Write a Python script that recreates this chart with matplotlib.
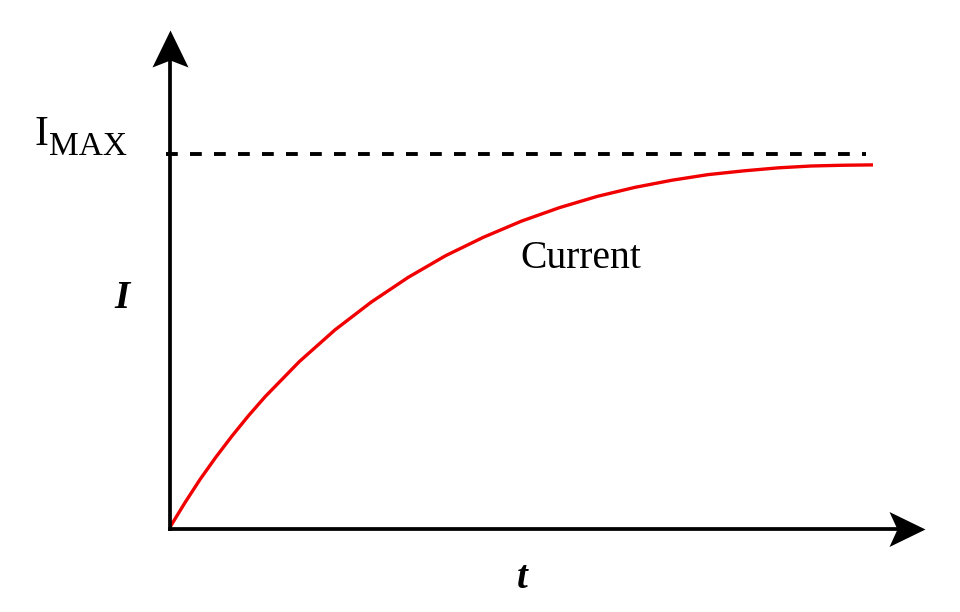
import matplotlib
matplotlib.use('Agg')
import matplotlib.pyplot as plt
from matplotlib.path import Path

# ---- data (t in arbitrary units, I relative to I_MAX) ----
t_vals = [0.000, 0.212, 0.430, 0.654, 0.882, 1.116, 1.354, 1.843, 2.347, 2.862,
          3.388, 3.922, 4.459, 5.000, 5.541, 6.078, 6.612, 7.138, 7.653, 8.158,
          8.646, 9.118, 9.570, 10.000]
i_vals = [0.005, 0.070, 0.133, 0.192, 0.248, 0.302, 0.353, 0.447, 0.531, 0.605,
          0.671, 0.729, 0.778, 0.821, 0.857, 0.887, 0.911, 0.930, 0.945, 0.955,
          0.963, 0.968, 0.970, 0.971]
i_max = 1.0
curve_label = "Current"
x_label = "t"
y_label = "I"
max_main, max_sub = "I", "MAX"

# ---- layout ----
W, H = 960, 612
fig = plt.figure(figsize=(W / 100, H / 100), dpi=100)
ax = fig.add_axes([0, 0, 1, 1])
px_t, px_i = 70.3, 375.0       # pixels per data unit
ox, oy = 170, 529              # origin pixel position
ax.set_xlim(-ox / px_t, (W - ox) / px_t)
ax.set_ylim(-(H - oy) / px_i, oy / px_i)
ax.axis('off')

def fx(px):
    return px / W

def fy(py):
    return 1 - py / H

serif = ['Liberation Serif', 'DejaVu Serif']

# axes lines
x_notch = (897 - ox) / px_t
x_tip = (925 - ox) / px_t
y_notch = (oy - 60) / px_i
y_tip = (oy - 30) / px_i
ax.plot([0, x_notch], [0, 0], color='black', lw=2.7, solid_capstyle='projecting', zorder=3)
ax.plot([0, 0], [0, y_notch], color='black', lw=2.7, solid_capstyle='projecting', zorder=3)

# arrow heads (notched, stealth-like) as custom markers
right_head = Path([(0, 0), (-36, 17.5), (-28, 0), (-36, -17.5), (0, 0)],
                  [Path.MOVETO, Path.LINETO, Path.LINETO, Path.LINETO, Path.CLOSEPOLY])
up_head = Path([(0, 0), (-18, -37), (0, -30), (18, -37), (0, 0)],
               [Path.MOVETO, Path.LINETO, Path.LINETO, Path.LINETO, Path.CLOSEPOLY])
ms_r = 36 / (0.5 * 100 / 72)
ms_u = 37 / (0.5 * 100 / 72)
ax.plot([x_tip], [0], marker=right_head, markersize=ms_r, color='black',
        markeredgewidth=0, linestyle='none', zorder=4)
ax.plot([0], [y_tip], marker=up_head, markersize=ms_u, color='black',
        markeredgewidth=0, linestyle='none', zorder=4)

# I_MAX dashed line
plt.rcParams['lines.scale_dashes'] = False
ax.plot([(166 - ox) / px_t, (866 - ox) / px_t], [i_max, i_max], color='black',
        lw=2.8, dashes=[8.5, 8.78], dash_capstyle='butt', zorder=2)

# current curve
ax.plot(t_vals, i_vals, color='#f00000', lw=2.4, solid_capstyle='butt',
        solid_joinstyle='round', antialiased=True, zorder=2)

# texts
fig.text(fx(48.5), fy(145), max_main, family=serif, fontsize=30, ha='right', va='baseline')
fig.text(fx(48.5), fy(155), max_sub, family=serif, fontsize=24, ha='left', va='baseline')
fig.text(fx(520), fy(268), curve_label, family=serif, fontsize=28.5, ha='left', va='baseline')
fig.text(fx(122), fy(308), y_label, family=serif, fontsize=28, fontweight='bold',
         fontstyle='italic', ha='center', va='baseline')
fig.text(fx(522), fy(588), x_label, family=serif, fontsize=28, fontweight='bold',
         fontstyle='italic', ha='center', va='baseline')

fig.savefig('out.png', dpi=100, facecolor='white')
